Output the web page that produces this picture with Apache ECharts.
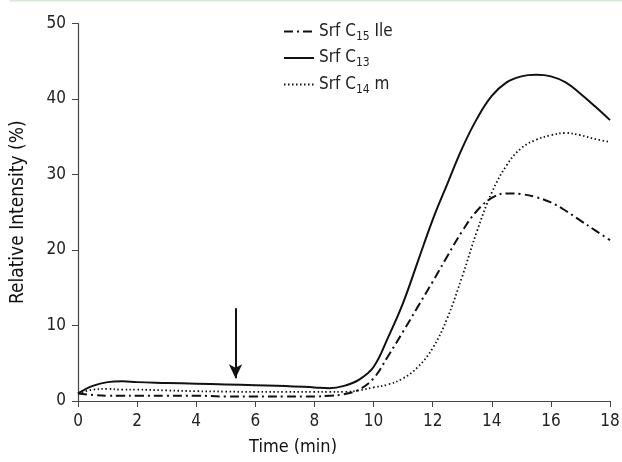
<!DOCTYPE html>
<html><head><meta charset="utf-8">
<script src="https://cdn.jsdelivr.net/npm/echarts@6/dist/echarts.min.js"></script>
<style>html,body{margin:0;padding:0;background:#fff}#c{width:622px;height:462px}</style>
</head><body><div id="c"></div>
<script>
const times   = [0, 0.5, 1, 1.5, 2, 3, 4, 5, 6, 7, 8, 8.5, 9, 9.5, 10, 10.5, 11, 11.5, 12, 12.5, 13, 13.5, 14, 14.5, 15, 15.5, 16, 16.5, 17, 17.5, 18];
const srfC15Ile = [1.0, 0.8, 0.7, 0.7, 0.7, 0.7, 0.7, 0.6, 0.6, 0.6, 0.6, 0.7, 0.9, 1.5, 3.0, 6.0, 9.2, 12.5, 15.8, 19.2, 22.5, 25.2, 26.9, 27.5, 27.4, 27.0, 26.3, 25.2, 23.9, 22.6, 21.3];
const srfC13 = [1.0, 2.0, 2.5, 2.6, 2.5, 2.4, 2.3, 2.2, 2.1, 2.0, 1.8, 1.7, 2.0, 2.8, 4.5, 8.5, 13.0, 18.5, 24.0, 28.8, 33.5, 37.4, 40.4, 42.2, 43.0, 43.2, 43.0, 42.2, 40.7, 39.0, 37.2];
const srfC14m = [1.0, 1.5, 1.6, 1.5, 1.5, 1.4, 1.3, 1.25, 1.2, 1.2, 1.2, 1.2, 1.2, 1.4, 1.8, 2.2, 3.0, 4.5, 7.0, 11.0, 16.5, 22.5, 27.6, 31.2, 33.5, 34.6, 35.2, 35.5, 35.2, 34.7, 34.3];
const xTicks = [0, 2, 4, 6, 8, 10, 12, 14, 16, 18];
const yTicks = [0, 10, 20, 30, 40, 50];
const xTitle = 'Time (min)';
const yTitle = 'Relative Intensity (%)';
const arrowX = 5.33, arrowTop = 12.3, arrowTip = 3.0;

const FONT = "'DejaVu Sans Condensed', 'Liberation Sans Narrow', 'Open Sans', sans-serif";
const pairs = arr => times.map((t, i) => [t, arr[i]]);
const legendNames = {
  'C15': 'Srf C{sub|15} Ile',
  'C13': 'Srf C{sub|13}',
  'C14': 'Srf C{sub|14} m'
};
const chart = echarts.init(document.getElementById('c'), null, {renderer: 'canvas'});
chart.setOption({
  animation: false,
  backgroundColor: '#fff',
  grid: {left: 78, right: 12, top: 23.5, bottom: 61, outerBoundsMode: 'none', containLabel: false},
  legend: {
    orient: 'vertical', left: 278, top: 18, itemGap: 7,
    itemWidth: 30, itemHeight: 14,
    data: ['C15', 'C13', 'C14'],
    itemStyle: {opacity: 0},
    formatter: n => legendNames[n],
    textStyle: {
      fontFamily: FONT, fontSize: 17, color: '#222',
      rich: {sub: {fontFamily: FONT, fontSize: 12, color: '#222', padding: [10, 0, 0, 0]}}
    }
  },
  xAxis: {
    type: 'value', min: 0, max: 18, interval: 2,
    axisLine: {show: true, lineStyle: {color: '#444', width: 1.2}},
    axisTick: {show: true, length: 6, lineStyle: {color: '#444'}},
    axisLabel: {fontFamily: FONT, fontSize: 17, color: '#222', margin: 12},
    splitLine: {show: false}
  },
  yAxis: {
    type: 'value', min: 0, max: 50, interval: 10,
    name: yTitle, nameLocation: 'middle', nameGap: 50,
    nameTextStyle: {fontFamily: FONT, fontSize: 19, color: '#111'},
    axisLine: {show: true, lineStyle: {color: '#444', width: 1.2}},
    axisTick: {show: true, length: 6, lineStyle: {color: '#444'}},
    axisLabel: {fontFamily: FONT, fontSize: 17, color: '#222', margin: 12},
    splitLine: {show: false}
  },
  series: [
    {name: 'C15', type: 'line', data: pairs(srfC15Ile), smooth: 0.4, showSymbol: false, symbol: 'none',
     lineStyle: {color: '#111', width: 2, type: [9, 4, 2, 4]}, itemStyle: {color: '#111'}, z: 3},
    {name: 'C13', type: 'line', data: pairs(srfC13), smooth: 0.4, showSymbol: false, symbol: 'none',
     lineStyle: {color: '#111', width: 2}, itemStyle: {color: '#111'}, z: 3,
     markLine: {
       silent: true, symbol: ['none', 'arrow'], symbolSize: [10, 14],
       lineStyle: {color: '#111', width: 2, type: 'solid'}, label: {show: false},
       data: [[{coord: [arrowX, arrowTop]}, {coord: [arrowX, arrowTip]}]]
     }},
    {name: 'C14', type: 'line', data: pairs(srfC14m), smooth: 0.4, showSymbol: false, symbol: 'none',
     lineStyle: {color: '#111', width: 1.8, type: [1.5, 2.5]}, itemStyle: {color: '#111'}, z: 3}
  ],
  graphic: [
    {type: 'rect', shape: {x: 10, y: 0, width: 612, height: 1.5}, style: {fill: '#d5ecd1'}},
    {type: 'text', x: 293, y: 447, style: {text: xTitle, font: "18px 'DejaVu Sans Condensed', 'Open Sans', sans-serif", fill: '#111', align: 'center', verticalAlign: 'middle'}}
  ]
});
</script></body></html>
